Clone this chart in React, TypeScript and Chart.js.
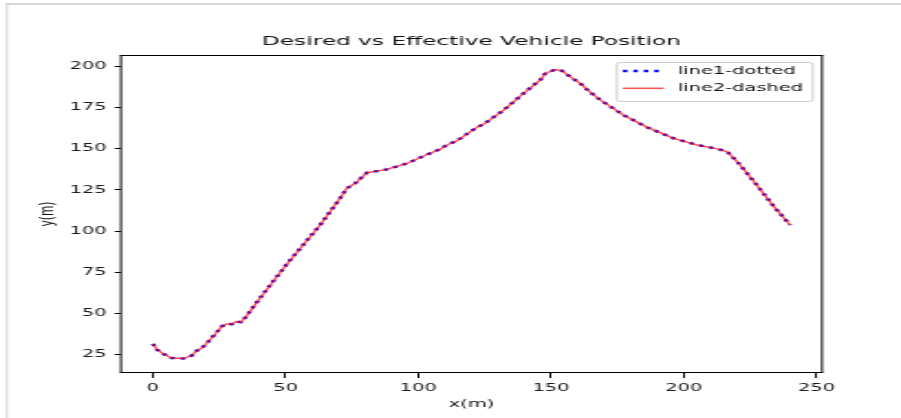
import React, { useEffect, useRef } from "react";
import { Chart, registerables } from "chart.js";

Chart.register(...registerables);

// ---- data ----
const xPositions = [
  0, 1.6, 3.9, 7, 11.4, 14.6, 16.7, 18.4, 20.9, 24, 25.9, 27.8, 29.7, 31.3, 33.1, 35.1,
  40.3, 50.4, 63, 70.5, 73, 76.2, 80.6, 84.4, 88.1, 95.7, 101.9, 108.2, 110.7, 114.5,
  122, 124.6, 132.1, 139.6, 146, 147.8, 151.6, 154.1, 157.2, 161, 164.1, 168.6, 177.3,
  186.2, 196.2, 205, 212.6, 216.3, 220.1, 226.4, 233.9, 240,
];
const desiredY = [
  31.6, 28.0, 25.6, 23.0, 22.7, 24.5, 27.6, 29.0, 33.0, 38.5, 42.1, 43.7, 43.5, 45.1, 44.7, 48.1,
  59.3, 79.9, 103.7, 119.9, 125.9, 129, 135.4, 136.4, 137.4, 141, 145.5, 149.7, 152.2, 154.8,
  162.9, 164.9, 173.4, 183.5, 191.9, 195.6, 198, 197.2, 193.5, 189.5, 185, 179.4, 170.3,
  162.9, 156.2, 152.2, 149.9, 148.1, 142, 130, 114.8, 103.7,
];
const effectiveY = [
  31.6, 28.0, 25.6, 23.0, 22.7, 24.5, 27.6, 29.0, 33.0, 38.5, 42.1, 43.7, 43.5, 45.1, 44.7, 48.1,
  59.3, 79.9, 103.7, 119.9, 125.9, 129, 135.4, 136.4, 137.4, 141, 145.5, 149.7, 152.2, 154.8,
  162.9, 164.9, 173.4, 183.5, 191.9, 195.6, 198, 197.2, 193.5, 189.5, 185, 179.4, 170.3,
  162.9, 156.2, 152.2, 149.9, 148.1, 142, 130, 114.8, 103.7,
];
const xTickValues = [0, 50, 100, 150, 200, 250];
const yTickValues = [25, 50, 75, 100, 125, 150, 175, 200];
const chartTitle = "Desired vs Effective Vehicle Position";
const xAxisLabel = "x(m)";
const yAxisLabel = "y(m)";
const seriesNames = ["line1-dotted", "line2-dashed"];

// ---- layout ----
const SCREEN_W = 901;
const SCREEN_H = 418;
const STRETCH = 1.83;
const CANVAS_W = Math.round(SCREEN_W / STRETCH);
const FONT = '"DejaVu Sans", sans-serif';
const AREA_LEFT = 121 / (SCREEN_W / CANVAS_W);
const AREA_RIGHT = 822 / (SCREEN_W / CANVAS_W);

const decorPlugin = {
  id: "decor",
  beforeDraw(chart: any) {
    const { ctx, width, height } = chart;
    ctx.save();
    ctx.fillStyle = "#ffffff";
    ctx.fillRect(0, 0, width, height);
    ctx.fillStyle = "#d6d6d6";
    ctx.fillRect(3.2, 3, width, 2);
    ctx.fillRect(3.2, 3, 1.1, height);
    ctx.restore();
  },
  afterDraw(chart: any) {
    const { ctx, chartArea: a } = chart;
    ctx.save();
    // spines
    ctx.fillStyle = "#000";
    ctx.fillRect(a.left - 0.5, a.top, a.right - a.left + 1, 1);
    ctx.fillRect(a.left - 0.5, a.bottom - 1, a.right - a.left + 1, 1);
    ctx.fillRect(a.left - 0.5, a.top, 1, a.bottom - a.top);
    ctx.fillRect(a.right - 0.5, a.top, 1, a.bottom - a.top);
    // title
    ctx.fillStyle = "#111";
    ctx.textAlign = "center";
    ctx.textBaseline = "middle";
    ctx.font = `12.7px ${FONT}`;
    ctx.fillText(chartTitle, (a.left + a.right) / 2, 42);
    // axis labels
    ctx.font = `10.6px ${FONT}`;
    ctx.fillText(xAxisLabel, (a.left + a.right) / 2, 404);
    ctx.save();
    ctx.translate(26.2, (a.top + a.bottom) / 2);
    ctx.rotate(-Math.PI / 2);
    ctx.fillText(yAxisLabel, 0, 0);
    ctx.restore();
    // legend
    const bw = 107;
    const bh = 39;
    const bx = a.right - 5.5 - bw;
    const by = a.top + 7;
    ctx.beginPath();
    if (ctx.roundRect) ctx.roundRect(bx + 0.5, by + 0.5, bw, bh, 2);
    else ctx.rect(bx + 0.5, by + 0.5, bw, bh);
    ctx.fillStyle = "rgba(255,255,255,0.8)";
    ctx.fill();
    ctx.strokeStyle = "#cccccc";
    ctx.lineWidth = 1;
    ctx.stroke();
    const lx0 = bx + 3.8;
    const lx1 = bx + 25.6;
    const r1 = by + 9;
    const r2 = by + 26.3;
    ctx.beginPath();
    ctx.setLineDash([2.4, 3.3]);
    ctx.strokeStyle = "#0000ff";
    ctx.lineWidth = 2.4;
    ctx.moveTo(lx0, r1);
    ctx.lineTo(lx1, r1);
    ctx.stroke();
    ctx.beginPath();
    ctx.setLineDash([]);
    ctx.strokeStyle = "rgba(255,0,0,0.7)";
    ctx.lineWidth = 1.5;
    ctx.moveTo(lx0, r2);
    ctx.lineTo(lx1 + 0.5, r2);
    ctx.stroke();
    ctx.fillStyle = "#111";
    ctx.textAlign = "left";
    ctx.textBaseline = "middle";
    ctx.font = `10.6px ${FONT}`;
    ctx.fillText(seriesNames[0], bx + 33.8, r1);
    ctx.fillText(seriesNames[1], bx + 33.8, r2);
    ctx.restore();
  },
};

export default function App() {
  const canvasRef = useRef<HTMLCanvasElement | null>(null);

  useEffect(() => {
    const canvas = canvasRef.current;
    if (!canvas) return;
    const tickFont = { family: FONT, size: 10.6 };
    const chart = new Chart(canvas, {
      type: "line",
      data: {
        datasets: [
          {
            label: seriesNames[0],
            data: xPositions.map((x, i) => ({ x, y: desiredY[i] })),
            borderColor: "#0000ff",
            borderWidth: 2.4,
            borderDash: [2.4, 3.3],
            pointRadius: 0,
            tension: 0,
            fill: false,
            order: 1,
          },
          {
            label: seriesNames[1],
            data: xPositions.map((x, i) => ({ x, y: effectiveY[i] })),
            borderColor: "rgba(255,0,0,0.7)",
            borderWidth: 1.4,
            pointRadius: 0,
            tension: 0,
            fill: false,
            order: 0,
          },
        ],
      },
      options: {
        responsive: false,
        animation: false,
        devicePixelRatio: 1,
        events: [],
        layout: { padding: { left: 0, right: CANVAS_W - AREA_RIGHT, top: 55, bottom: 0 } },
        plugins: {
          legend: { display: false },
          title: { display: false },
          tooltip: { enabled: false },
        },
        scales: {
          x: {
            type: "linear",
            min: -12,
            max: 252,
            afterBuildTicks: (s: any) => {
              s.ticks = xTickValues.map((v) => ({ value: v }));
            },
            afterFit: (s: any) => {
              s.height = SCREEN_H - 373;
            },
            grid: { drawOnChartArea: false, drawTicks: true, tickLength: 5, tickColor: "#000", lineWidth: 1 },
            border: { display: false },
            ticks: {
              font: tickFont,
              color: "#1a1a1a",
              padding: 4,
              maxRotation: 0,
              autoSkip: false,
              callback: (v: any) => String(v),
            },
          },
          y: {
            type: "linear",
            min: 13.9,
            max: 206.8,
            afterBuildTicks: (s: any) => {
              s.ticks = yTickValues.map((v) => ({ value: v }));
            },
            afterFit: (s: any) => {
              s.width = AREA_LEFT;
            },
            grid: { drawOnChartArea: false, drawTicks: true, tickLength: 3.4, tickColor: "#000", lineWidth: 1 },
            border: { display: false },
            ticks: {
              font: tickFont,
              color: "#1a1a1a",
              padding: 4.5,
              autoSkip: false,
              callback: (v: any) => String(v),
            },
          },
        },
      },
      plugins: [decorPlugin],
    } as any);
    return () => chart.destroy();
  }, []);

  return (
    <div
      style={{
        position: "fixed",
        left: 0,
        top: 0,
        width: SCREEN_W,
        height: SCREEN_H,
        background: "#fff",
      }}
    >
      <canvas
        ref={canvasRef}
        width={CANVAS_W}
        height={SCREEN_H}
        style={{ width: `${SCREEN_W}px`, height: `${SCREEN_H}px`, display: "block" }}
      />
    </div>
  );
}
